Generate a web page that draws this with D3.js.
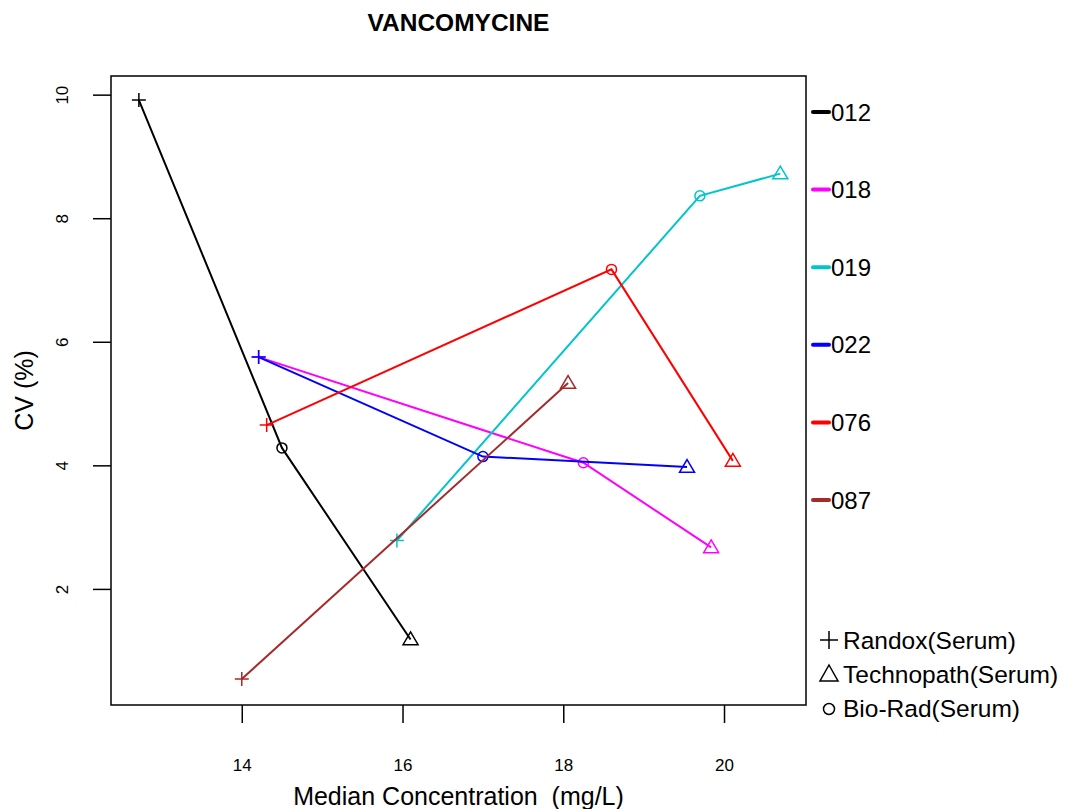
<!DOCTYPE html>
<html><head><meta charset="utf-8">
<script src="https://cdn.jsdelivr.net/npm/d3@7"></script>
<style>body{margin:0;background:#fff}svg{display:block}text{font-family:Arial,"Liberation Sans",sans-serif}</style>
</head><body>
<svg id="c" width="1068" height="809"></svg>
<script>
const labs = ["012","018","019","022","076","087"];
const colors = ["#000000","#ff00ff","#00c5cd","#0000ff","#ff0000","#a52a2a"];
const manufacturers = ["Randox(Serum)","Technopath(Serum)","Bio-Rad(Serum)"];
const symbols = ["plus","triangle","circle"];
// per lab: points in order Randox, Bio-Rad, Technopath (null = missing)
const xRandox     = [12.72, 14.21, 15.93, 14.21, 14.31, 14.00];
const yRandox     = [9.92,  5.76,  2.79,  5.76,  4.66,  0.55];
const xBioRad     = [14.50, 18.25, 19.70, 17.00, 18.60, null];
const yBioRad     = [4.29,  4.05,  8.37,  4.15,  7.18,  null];
const xTechnopath = [16.10, 19.84, 20.70, 19.54, 20.11, 18.06];
const yTechnopath = [1.19,  2.68,  8.73,  3.98,  4.08,  5.34];
const xTicks = [14,16,18,20];
const yTicks = [2,4,6,8,10];

const svg = d3.select("#c");
const L=111,R=806,T=76,B=705;
const x = d3.scaleLinear().domain([12.373,21.02]).range([L,R]);
const y = d3.scaleLinear().domain([0.129,10.31]).range([B,T]);

svg.append("text").attr("x",(L+R)/2).attr("y",31).attr("text-anchor","middle")
  .attr("font-weight","bold").attr("font-size",24.5).text("VANCOMYCINE");

// axes
const xa = svg.append("g").attr("transform",`translate(0,${B})`)
  .call(d3.axisBottom(x).tickValues(xTicks).tickSize(18).tickPadding(36).tickFormat(d3.format("d")));
const ya = svg.append("g").attr("transform",`translate(${L},0)`)
  .call(d3.axisLeft(y).tickValues(yTicks).tickSize(18).tickFormat(d3.format("d")));
[xa,ya].forEach(a=>{a.attr("font-size",null).attr("font-family",null);
  a.select(".domain").remove();a.selectAll("line").attr("stroke","#000").attr("stroke-width",1.5);
  a.selectAll("text").style("font-size","17px").attr("fill","#000");});
ya.selectAll("text").attr("transform",function(d){return `translate(${-49},${y(d)}) rotate(-90)`;})
  .attr("x",0).attr("y",0).attr("dy","0.35em").attr("text-anchor","middle")
  .attr("dx",0);
ya.selectAll(".tick").attr("transform",null);
ya.selectAll(".tick line").attr("transform",d=>`translate(0,${y(d)})`);

svg.append("rect").attr("x",L).attr("y",T).attr("width",R-L).attr("height",B-T)
  .attr("fill","none").attr("stroke","#000").attr("stroke-width",1.5);

svg.append("text").attr("x",(L+R)/2).attr("y",805).attr("text-anchor","middle").attr("font-size",25)
  .attr("xml:space","preserve").style("white-space","pre")
  .text("Median Concentration  (mg/L)");
svg.append("text").attr("transform",`translate(33,${(T+B)/2}) rotate(-90)`).attr("text-anchor","middle")
  .attr("font-size",25).text("CV (%)");

function drawSym(g,type,cx,cy,col){
  if(type==="plus"){
    g.append("path").attr("d",`M${cx-7},${cy}H${cx+7}M${cx},${cy-7}V${cy+7}`).attr("stroke",col).attr("stroke-width",1.5).attr("fill","none");
  }else if(type==="triangle"){
    const s=7.5;
    g.append("path").attr("d",`M${cx},${cy-s}L${cx+s},${cy+s*0.7}L${cx-s},${cy+s*0.7}Z`).attr("stroke",col).attr("stroke-width",1.5).attr("fill","none");
  }else{
    g.append("circle").attr("cx",cx).attr("cy",cy).attr("r",5).attr("stroke",col).attr("stroke-width",1.5).attr("fill","none");
  }
}

const line = d3.line().x(d=>x(d[0])).y(d=>y(d[1]));
const gp = svg.append("g");
labs.forEach((lab,i)=>{
  const pts=[];
  pts.push([xRandox[i],yRandox[i],"plus"]);
  if(xBioRad[i]!=null) pts.push([xBioRad[i],yBioRad[i],"circle"]);
  pts.push([xTechnopath[i],yTechnopath[i],"triangle"]);
  gp.append("path").datum(pts).attr("d",line).attr("fill","none").attr("stroke",colors[i]).attr("stroke-width",2);
  pts.forEach(p=>drawSym(gp,p[2],x(p[0]),y(p[1]),colors[i]));
});

// lab legend
labs.forEach((lab,i)=>{
  const yy=112+i*77.6;
  svg.append("line").attr("x1",813).attr("x2",829).attr("y1",yy).attr("y2",yy).attr("stroke",colors[i]).attr("stroke-width",4).attr("stroke-linecap","round");
  svg.append("text").attr("x",831).attr("y",yy).attr("dy","0.36em").attr("font-size",24).text(lab);
});
// manufacturer legend
manufacturers.forEach((m,i)=>{
  const yy=640+i*34;
  const g=svg.append("g");
  if(symbols[i]==="plus") g.append("path").attr("d",`M${820},${yy}H${838}M${829},${yy-9}V${yy+9}`).attr("stroke","#000").attr("stroke-width",1.5);
  else if(symbols[i]==="triangle") g.append("path").attr("d",`M829,${yy-9}L838,${yy+7}L820,${yy+7}Z`).attr("stroke","#000").attr("stroke-width",1.5).attr("fill","none");
  else g.append("circle").attr("cx",829).attr("cy",yy+1).attr("r",5.5).attr("stroke","#000").attr("stroke-width",1.5).attr("fill","none");
  svg.append("text").attr("x",843).attr("y",yy).attr("dy","0.36em").attr("font-size",24.5).text(m);
});
</script>
</body></html>
